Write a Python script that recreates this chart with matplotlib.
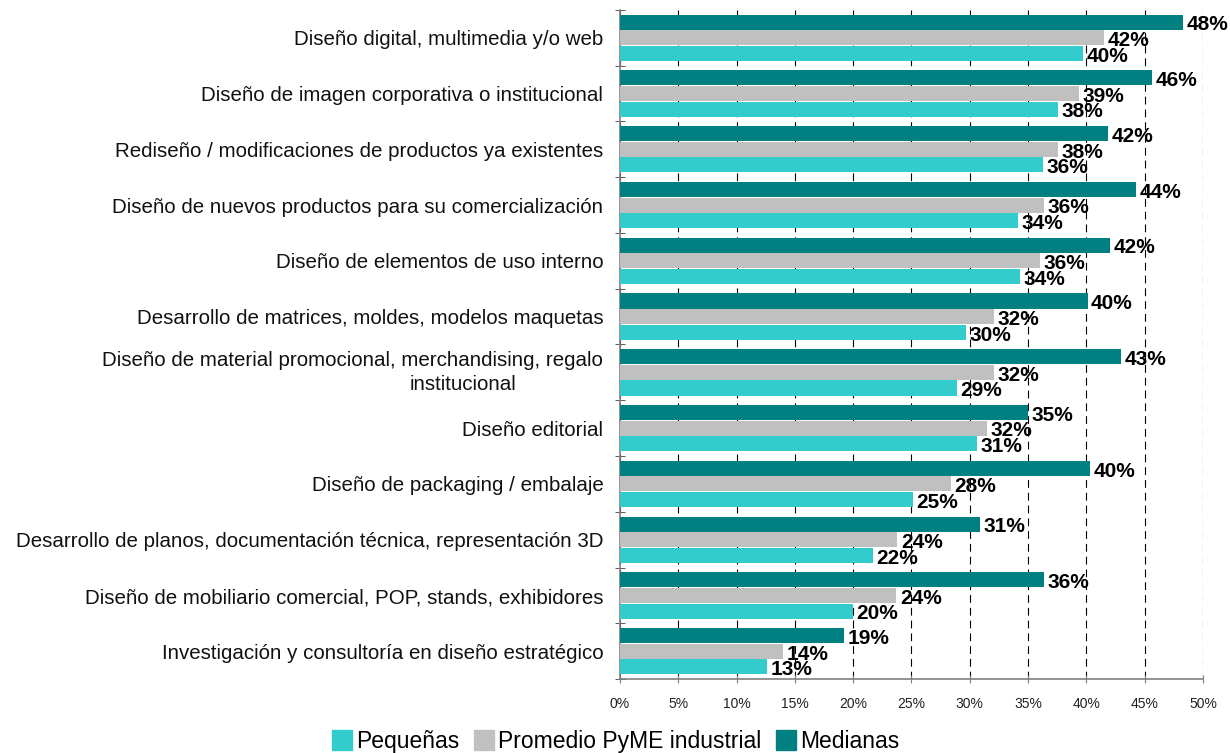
import matplotlib.pyplot as plt
import numpy as np
from matplotlib.lines import Line2D

categories = [
    "Diseño digital, multimedia y/o web",
    "Diseño de imagen corporativa o institucional",
    "Rediseño / modificaciones de productos ya existentes",
    "Diseño de nuevos productos para su comercialización",
    "Diseño de elementos de uso interno",
    "Desarrollo de matrices, moldes, modelos maquetas",
    "Diseño de material promocional, merchandising, regalo\ninstitucional",
    "Diseño editorial",
    "Diseño de packaging / embalaje",
    "Desarrollo de planos, documentación técnica, representación 3D",
    "Diseño de mobiliario comercial, POP, stands, exhibidores",
    "Investigación y consultoría en diseño estratégico",
]
medianas = [48.3, 45.6, 41.9, 44.3, 42.0, 40.1, 43.0, 35.0, 40.3, 30.9, 36.4, 19.2]
promedio = [41.5, 39.4, 37.6, 36.4, 36.0, 32.1, 32.1, 31.5, 28.4, 23.8, 23.7, 14.0]
pequenas = [39.7, 37.6, 36.3, 34.1, 34.3, 29.7, 28.9, 30.6, 25.1, 21.7, 20.0, 12.6]

series = [
    ("Medianas", medianas, "#008080", -0.28),
    ("Promedio PyME industrial", promedio, "#C0C0C0", 0.0),
    ("Pequeñas", pequenas, "#33CCCC", 0.28),
]

plt.rcParams["font.family"] = ["Liberation Sans", "DejaVu Sans"]

fig = plt.figure(figsize=(12.3, 7.53), dpi=100)
ax = fig.add_axes([0.504, 0.098, 0.474, 0.889])

y = np.arange(len(categories))
for name, vals, color, off in series:
    ax.barh(y + off, vals, height=0.27, color=color, zorder=3)
    for yi, v in zip(y, vals):
        ax.text(v + 0.3, yi + off + 0.05, f"{round(v):.0f}%", ha="left", va="center",
                fontsize=15, fontweight="bold", color="black", zorder=4)

ax.set_xlim(0, 50)
ax.set_ylim(len(categories) - 0.5, -0.5)
ax.set_xticks(np.arange(0, 51, 5))
ax.set_xticklabels([f"{t}%" for t in range(0, 51, 5)], fontsize=10, color="#222222")
ax.xaxis.grid(True, color="black", linestyle=(0, (7, 4.5)), linewidth=0.8, zorder=1)
ax.tick_params(axis="x", direction="inout", length=6, color="#808080", pad=10)

# category labels sit between boundary ticks
ax.set_yticks(y)
labels = list(categories)
labels[6] = ""
ax.set_yticklabels(labels, fontsize=14.8, color="#111111")
ax.tick_params(axis="y", length=0, pad=12)
ax.set_yticks(np.arange(-0.5, len(categories) + 0.5, 1), minor=True)
ax.tick_params(axis="y", which="minor", direction="inout", length=7, color="#404040")

ax.annotate("Diseño de material promocional, merchandising, regalo", xy=(0, 6),
            xycoords=("axes fraction", "data"), xytext=(-12.5, 8.8), textcoords="offset points",
            ha="right", va="center", fontsize=14.8, color="#111111")
ax.annotate("institucional", xy=(0, 6), xycoords=("axes fraction", "data"),
            xytext=(-113, -8.8), textcoords="offset points",
            ha="center", va="center", fontsize=14.8, color="#111111")

for s in ["top", "right"]:
    ax.spines[s].set_visible(False)
ax.spines["left"].set_color("#808080")
ax.spines["bottom"].set_color("#808080")
ax.spines["left"].set_linewidth(1.2)
ax.spines["bottom"].set_linewidth(1.2)

handles = [Line2D([], [], marker="s", linestyle="", markersize=14, color=c)
           for c in ["#33CCCC", "#C0C0C0", "#008080"]]
fig.legend(handles, ["Pequeñas", "Promedio PyME industrial", "Medianas"],
           loc="center", bbox_to_anchor=(0.5, 0.015), ncol=3, frameon=False,
           fontsize=16.5, handletextpad=0.1, columnspacing=0.6, handlelength=1.0)

fig.savefig("out.png", dpi=100)
